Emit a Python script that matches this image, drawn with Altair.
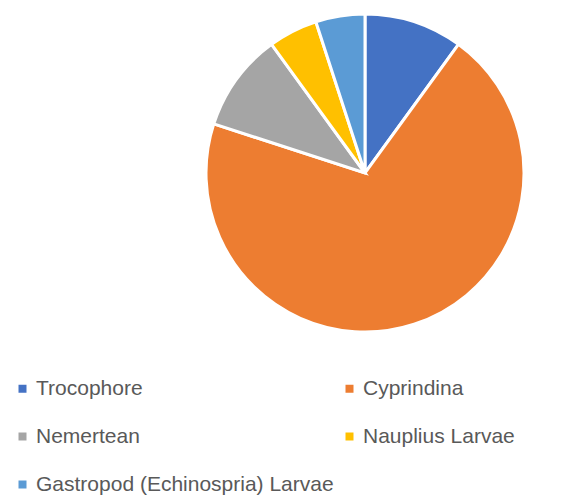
import altair as alt
import pandas as pd

categories = ["Trocophore", "Cyprindina", "Nemertean", "Nauplius Larvae", "Gastropod (Echinospria) Larvae"]
values = [10, 70, 10, 5, 5]
colors = ["#4472C4", "#ED7D31", "#A5A5A5", "#FFC000", "#5B9BD5"]

df = pd.DataFrame({"category": categories, "value": values, "idx": list(range(len(categories)))})

chart = alt.Chart(df).mark_arc(radius=159, stroke="white", strokeWidth=3).encode(
    theta=alt.Theta("value:Q", stack=True),
    order=alt.Order("idx:Q"),
    x=alt.value(357),
    y=alt.value(151),
    color=alt.Color(
        "category:N",
        scale=alt.Scale(domain=categories, range=colors),
        legend=alt.Legend(
            title=None,
            orient="none",
            legendX=4,
            legendY=356,
            direction="horizontal",
            columns=2,
            columnPadding=5,
            rowPadding=26,
            symbolType="square",
            symbolSize=64,
            symbolStrokeWidth=0,
            labelFontSize=21,
            labelFont="Liberation Sans",
            labelColor="#595959",
            labelOffset=3,
            labelLimit=400,
        ),
    ),
).properties(width=554, height=470, padding=0).configure_view(stroke=None)

chart.save("out.html", embed_options={"renderer": "svg", "actions": False})
